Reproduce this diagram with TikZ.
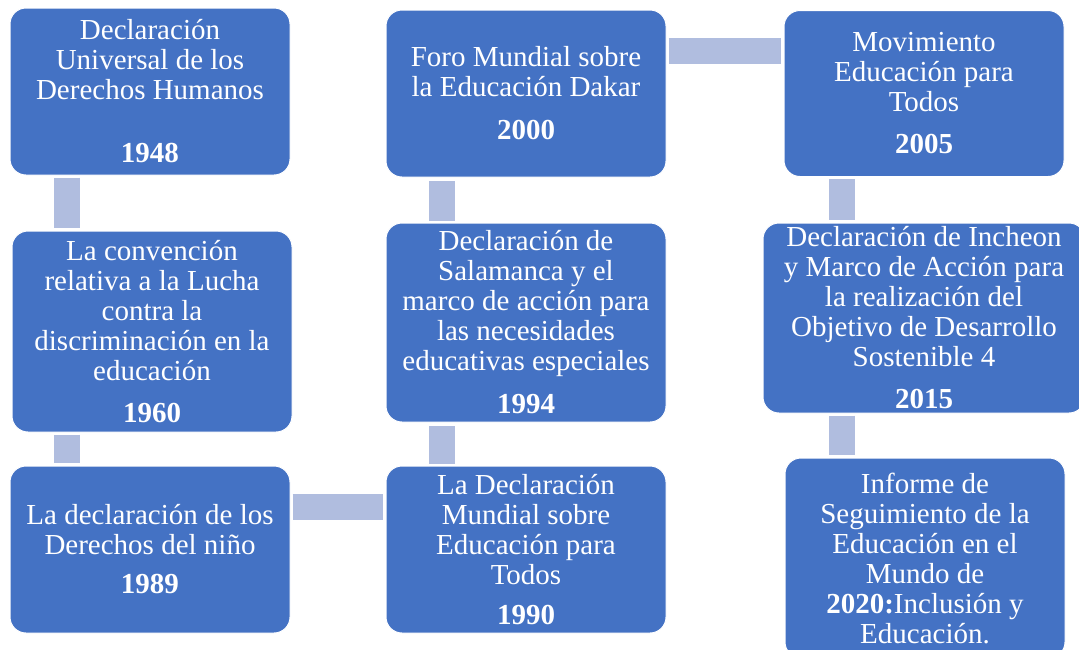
\documentclass[tikz,border=0pt]{standalone}
\usepackage{fontspec}
\setmainfont{Liberation Serif}
\usetikzlibrary{positioning}
\definecolor{boxblue}{RGB}{68,114,196}
\definecolor{linkblue}{RGB}{176,189,223}
\tikzstyle{event} = [rectangle, draw=white, line width=1pt, fill=boxblue, text=white, rounded corners=16pt, align=center, minimum width=280pt, font=\fontsize{29}{30}\selectfont]
\tikzstyle{link} = [draw=linkblue, line width=26pt, shorten <=2pt, shorten >=3pt]

\begin{document}
\begin{tikzpicture}
	\useasboundingbox (0,0) rectangle (1079pt,-649pt);
	\node [event, minimum height=167pt] at (150pt,-91.5pt) (dudh) {Declaración\\Universal de los\\Derechos Humanos\\[33pt]\textbf{1948}};
	\node [event, minimum height=201pt, below of=dudh, node distance=240pt, xshift=2pt] (conv) {La convención\\relativa a la Lucha\\contra la\\discriminación en la\\educación\\[12pt]\textbf{1960}};
	\node [event, minimum height=167pt, below of=conv, node distance=218pt, xshift=-2pt] (ninos) {La declaración de los\\Derechos del niño\\[9pt]\textbf{1989}};
	\node [event, minimum height=167pt, right of=ninos, node distance=376pt] (jomtien) {La Declaración\\Mundial sobre\\Educación para\\Todos\\[10pt]\textbf{1990}};
	\node [event, minimum height=199pt, above of=jomtien, node distance=227pt] (salamanca) {Declaración de\\Salamanca y el\\marco de acción para\\las necesidades\\educativas especiales\\[13pt]\textbf{1994}};
	\node [event, minimum height=167pt, above of=salamanca, node distance=229pt] (dakar) {Foro Mundial sobre\\la Educación Dakar\\[13pt]\textbf{2000}};
	\node [event, minimum height=166pt, right of=dakar, node distance=398pt] (ept) {Movimiento\\Educación para\\Todos\\[12pt]\textbf{2005}};
	\node [event, minimum height=190pt, minimum width=322pt, below of=ept, node distance=224.5pt] (incheon) {Declaración de Incheon\\y Marco de Acción para\\la realización del\\Objetivo de Desarrollo\\Sostenible 4\\[12pt]\textbf{2015}};
	\node [event, minimum height=200pt, below of=incheon, node distance=240pt, xshift=1pt] (informe) {Informe de\\Seguimiento de la\\Educación en el\\Mundo de\\\textbf{2020:}Inclusión y\\Educación.};
	\path [link] ([xshift=-83pt]dudh.south) -- ([xshift=-83pt]dudh.south |- conv.north);
	\path [link] ([xshift=-85pt]conv.south) -- ([xshift=-85pt]conv.south |- ninos.north);
	\path [link] ([yshift=43pt]ninos.east) -- ([yshift=43pt]ninos.east -| jomtien.west);
	\path [link] ([xshift=-84pt]jomtien.north) -- ([xshift=-84pt]jomtien.north |- salamanca.south);
	\path [link] ([xshift=-84pt]salamanca.north) -- ([xshift=-84pt]salamanca.north |- dakar.south);
	\path [link] ([yshift=43pt]dakar.east) -- ([yshift=43pt]dakar.east -| ept.west);
	\path [link] ([xshift=-82pt]ept.south) -- ([xshift=-82pt]ept.south |- incheon.north);
	\path [link] ([xshift=-82pt]incheon.south) -- ([xshift=-82pt]incheon.south |- informe.north);
\end{tikzpicture}
\end{document}
